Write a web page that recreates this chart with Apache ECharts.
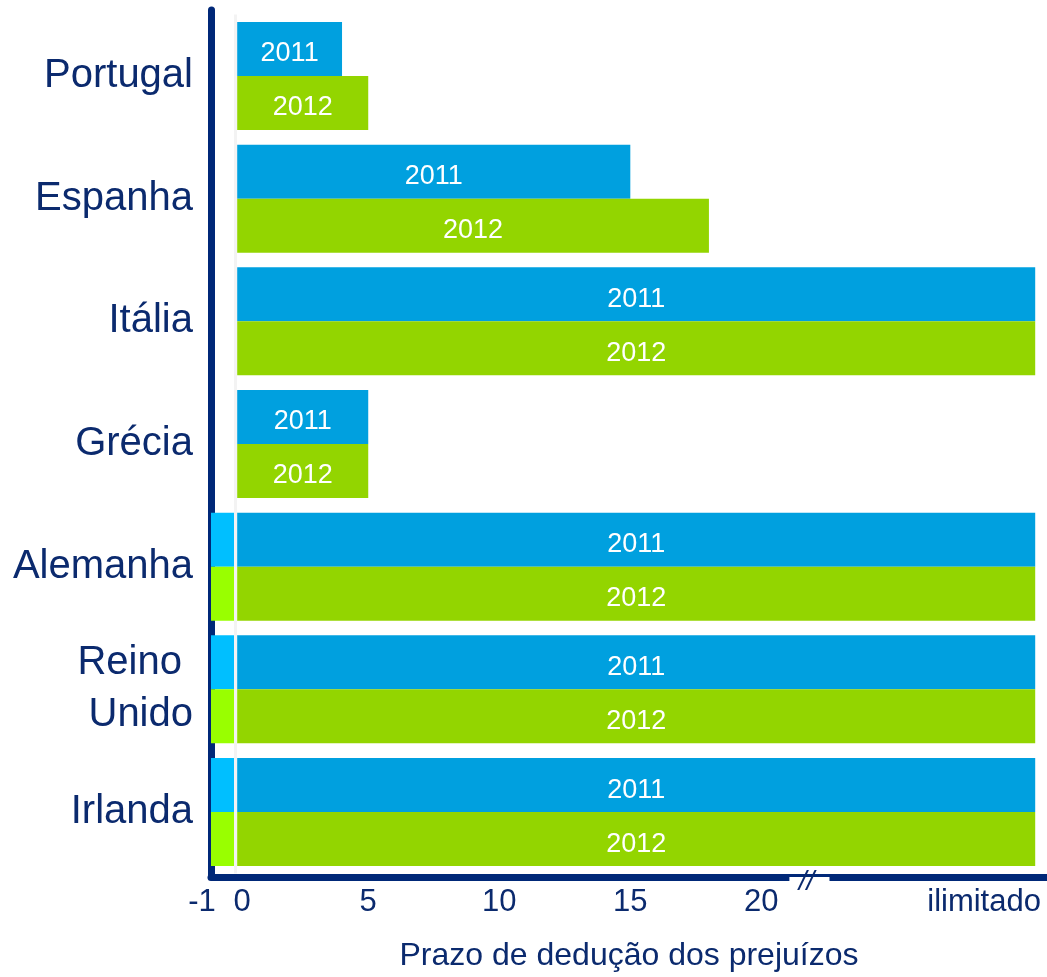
<!DOCTYPE html>
<html>
<head>
<meta charset="utf-8">
<script src="https://cdn.jsdelivr.net/npm/echarts@6/dist/echarts.min.js"></script>
<style>
  html, body { margin: 0; padding: 0; background: #fff; }
  #chart { width: 1047px; height: 977px; }
</style>
</head>
<body>
<div id="chart"></div>
<script>
// "ilimitado" is drawn as a long bar just short of the axis end
const ILIMITADO = 30.45
const paises = ['Portugal', 'Espanha', 'Itália', 'Grécia', 'Alemanha', 'Reino \nUnido', 'Irlanda']
const prazo2011 = [4, 15, ILIMITADO, 5, ILIMITADO, ILIMITADO, ILIMITADO]
const prazo2012 = [5, 18, ILIMITADO, 5, ILIMITADO, ILIMITADO, ILIMITADO]
// reporte para trás (carry-back de 1 ano)
const retro2011 = [null, null, null, null, -1, -1, -1]
const retro2012 = [null, null, null, null, -1, -1, -1]
const tickValues = [-1, 0, 5, 10, 15, 20, 28.5]
const tickLabels = ['-1', '0', '5', '10', '15', '20', 'ilimitado']

const navy = '#0b2a6e'
const lineNavy = '#002878'
const font = 'Liberation Sans, Arial, sans-serif'
const xMin = -1
const xMax = 30.9

const chart = echarts.init(document.getElementById('chart'))

const barLabel = {
  show: true,
  position: 'inside',
  offset: [0, 5],
  color: '#fff',
  fontSize: 27,
  fontFamily: font
}
const tickFont = { color: navy, fontSize: 31, fontFamily: font }

chart.setOption({
  animation: false,
  grid: [
    { left: 211, right: 0, top: 10, bottom: 94 },
    { left: 211, right: 0, top: 14.6, bottom: 103.6 }
  ],
  xAxis: [
    {
      gridIndex: 0,
      type: 'value',
      min: xMin,
      max: xMax,
      axisLine: { show: true, lineStyle: { color: lineNavy, width: 7 } },
      axisTick: { show: false },
      splitLine: { show: false },
      axisLabel: {
        customValues: tickValues,
        formatter: (v) => {
          const i = tickValues.indexOf(Number(v))
          if (i === 0) return '{l|' + tickLabels[i] + '}'
          if (i === 1) return '{r|' + tickLabels[i] + '}'
          return i >= 0 ? tickLabels[i] : ''
        },
        ...tickFont,
        margin: 10,
        hideOverlap: false,
        rich: {
          l: { ...tickFont, padding: [0, 18, 0, 0] },
          r: { ...tickFont, padding: [0, 0, 0, 10] }
        }
      },
      name: 'Prazo de dedução dos prejuízos',
      nameLocation: 'middle',
      nameGap: 63,
      nameTextStyle: { color: navy, fontSize: 32, fontFamily: font }
    },
    {
      gridIndex: 1,
      type: 'value',
      min: xMin,
      max: xMax,
      show: false
    }
  ],
  yAxis: [
    {
      gridIndex: 0,
      type: 'category',
      data: paises,
      inverse: true,
      axisLine: { show: true, onZero: false, lineStyle: { color: lineNavy, width: 7 } },
      axisTick: { show: false },
      axisLabel: { show: false }
    },
    {
      gridIndex: 1,
      type: 'category',
      data: paises,
      inverse: true,
      axisLine: { show: false, onZero: false },
      axisTick: { show: false },
      axisLabel: {
        color: navy,
        fontSize: 40,
        fontFamily: font,
        lineHeight: 52,
        align: 'right',
        margin: 18,
        padding: [4, 0, 0, 0]
      }
    }
  ],
  series: [
    {
      name: '2011',
      type: 'bar',
      xAxisIndex: 1,
      yAxisIndex: 1,
      stack: 'a',
      barWidth: 54,
      barGap: '0%',
      data: prazo2011,
      itemStyle: { color: '#00a0df' },
      label: { ...barLabel, formatter: '2011' },
      markLine: {
        silent: true,
        symbol: 'none',
        label: { show: false },
        lineStyle: { color: '#f3f3f3', width: 3, type: 'solid' },
        data: [{ xAxis: -0.07 }],
        z: 10
      }
    },
    {
      name: '2011 retro',
      type: 'bar',
      xAxisIndex: 1,
      yAxisIndex: 1,
      stack: 'a',
      barWidth: 54,
      barGap: '0%',
      data: retro2011,
      itemStyle: { color: '#00bfff' }
    },
    {
      name: '2012',
      type: 'bar',
      xAxisIndex: 1,
      yAxisIndex: 1,
      stack: 'b',
      barWidth: 54,
      barGap: '0%',
      data: prazo2012,
      itemStyle: { color: '#93d500' },
      label: { ...barLabel, formatter: '2012' }
    },
    {
      name: '2012 retro',
      type: 'bar',
      xAxisIndex: 1,
      yAxisIndex: 1,
      stack: 'b',
      barWidth: 54,
      barGap: '0%',
      data: retro2012,
      itemStyle: { color: '#99ff00' }
    }
  ]
})

// quebra do eixo horizontal entre 20 e "ilimitado"
const gapL = chart.convertToPixel({ xAxisIndex: 0 }, 21.07)
const gapR = chart.convertToPixel({ xAxisIndex: 0 }, 22.6)
const axisY = chart.getHeight() - 94
chart.setOption({
  graphic: [
    {
      type: 'rect',
      shape: { x: gapL, y: axisY - 6, width: gapR - gapL, height: 12 },
      style: { fill: '#fff' },
      z: 100
    },
    {
      type: 'text',
      x: (gapL + gapR) / 2 - 3,
      y: axisY - 1,
      style: {
        text: '//',
        fill: navy,
        font: 'italic 28px ' + font,
        align: 'center',
        verticalAlign: 'middle'
      },
      z: 101
    }
  ]
})

window.addEventListener('resize', () => chart.resize())
</script>
</body>
</html>
